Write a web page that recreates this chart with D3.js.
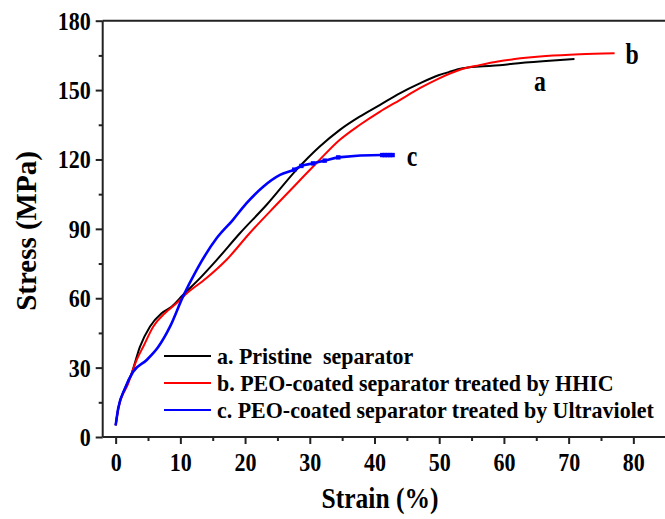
<!DOCTYPE html>
<html>
<head>
<meta charset="utf-8">
<script src="https://cdn.jsdelivr.net/npm/d3@7"></script>
<style>
  html, body { margin: 0; padding: 0; background: #fff; }
  svg { display: block; }
</style>
</head>
<body>
<svg id="chart" width="665" height="519"></svg>
<script>
// ---- data ----
const strainA = [0, 0.4, 1.44, 2.47, 3.75, 5.29, 7.1, 8.64, 10.4, 13, 15.6, 19.2, 23.3, 27.9, 31.5, 34.6, 37.7, 40.8, 43.9, 47, 50, 51.6, 53.6, 56.2, 59.3, 61.4, 66.5, 70.9];
const stressA = [5, 12.4, 21, 27.5, 39, 47.7, 53.5, 56.3, 61.4, 68.6, 76.5, 88.1, 100.3, 115.4, 125.5, 132.7, 138.5, 143.5, 148.6, 152.9, 156.5, 157.9, 159.4, 160.2, 160.7, 161.4, 162.6, 163.4];

const strainB = [0, 0.4, 1.95, 3.24, 4.26, 5.8, 7.6, 9.4, 11, 14, 17.1, 20.7, 24.8, 28.4, 31.5, 34.6, 37.7, 40.8, 43.9, 47, 50, 53.1, 56.2, 59.3, 61.4, 66.5, 71.7, 77.1];
const stressB = [5, 12, 23.2, 33.3, 39, 47.7, 53.5, 57.8, 62.1, 68.6, 76.5, 88.1, 100.3, 110.8, 119.8, 128.4, 134.9, 140.6, 145.7, 150.8, 155.1, 158.7, 160.8, 162.5, 163.3, 164.7, 165.5, 165.9];

const strainC = [0, 0.4, 1.44, 2.7, 4.8, 6.6, 8.4, 10.4, 12.5, 15.6, 18.1, 20.2, 22.8, 25.4, 27.6, 28.7, 30.5, 32.3, 34.4, 41.2, 41.6, 42, 42.4, 42.8];
const stressC = [5, 12.4, 21, 28.2, 33.3, 39, 47.7, 60.7, 72.2, 85.9, 93.8, 101, 108.2, 113.3, 115.6, 117.2, 118.3, 119.5, 120.9, 121.9, 121.9, 121.9, 121.9, 121.9];

const xTicks = [0, 10, 20, 30, 40, 50, 60, 70, 80];
const yTicks = [0, 30, 60, 90, 120, 150, 180];
const legendLabels = ["a. Pristine\u00a0 separator", "b. PEO-coated separator treated by HHIC", "c. PEO-coated separator treated by Ultraviolet"];
const curveLabels = ["a", "b", "c"];
const colors = ["#000000", "#ff0000", "#0000ff"];
const xTitle = "Strain (%)";
const yTitle = "Stress (MPa)";

// ---- layout ----
const FONT = "Liberation Serif";
const SX = 0.88; // horizontal squeeze of the reference's text
const svg = d3.select("#chart");
const W = 665, H = 519;
const x = d3.scaleLinear().domain([-2, 85.2]).range([102.7, 667]);
const y = d3.scaleLinear().domain([0, 180]).range([437, 20.7]);

const series = [
  strainA.map((s, i) => [s, stressA[i]]),
  strainB.map((s, i) => [s, stressB[i]]),
  strainC.map((s, i) => [s, stressC[i]])
];

const line = d3.line().x(d => x(d[0])).y(d => y(d[1])).curve(d3.curveMonotoneX);

// curves
const widths = [2, 2, 2.6];
series.forEach((data, k) => {
  svg.append("path")
    .datum(data)
    .attr("fill", "none")
    .attr("stroke", colors[k])
    .attr("stroke-width", widths[k])
    .attr("stroke-linejoin", "round")
    .attr("d", line);
});

// markers on blue plateau
svg.append("g").selectAll("rect")
  .data(series[2].filter(d => d[0] >= 27))
  .join("rect")
  .attr("x", d => x(d[0]) - 2.2)
  .attr("y", d => y(d[1]) - 2.2)
  .attr("width", 4.4)
  .attr("height", 4.4)
  .attr("fill", colors[2]);

// frame: top line
svg.append("line")
  .attr("x1", x.range()[0]).attr("x2", W)
  .attr("y1", y(180)).attr("y2", y(180))
  .attr("stroke", "#222").attr("stroke-width", 2);

// axes
const xAxis = d3.axisBottom(x).tickValues(xTicks).tickSize(7).tickPadding(9).tickFormat(d3.format("d"));
const xMinor = d3.axisBottom(x).tickValues(d3.range(5, 85, 10)).tickSize(4).tickFormat("");
const yAxis = d3.axisLeft(y).tickValues(yTicks).tickSize(7).tickPadding(5).tickFormat(d3.format("d"));
const yMinor = d3.axisLeft(y).tickValues(d3.range(15, 180, 30)).tickSize(4).tickFormat("");

function fontify(sel, size) {
  return sel.style("font-family", FONT).style("font-weight", "bold").style("font-size", size + "px").attr("fill", "#000");
}

function styleAxis(g) {
  g.attr("font-family", null).attr("font-size", null);
  g.select(".domain").attr("stroke", "#222").attr("stroke-width", 2);
  g.selectAll(".tick line").attr("stroke", "#222").attr("stroke-width", 2);
  fontify(g.selectAll(".tick text"), 25);
}

const gx = svg.append("g").attr("transform", `translate(0,${y(0)})`).call(xAxis);
gx.select(".domain").attr("d", `M${x.range()[0]},0H${W}`);
styleAxis(gx);
gx.selectAll(".tick text").attr("transform", `scale(${SX},1)`);
const gxm = svg.append("g").attr("transform", `translate(0,${y(0)})`).call(xMinor);
gxm.select(".domain").remove();
styleAxis(gxm);

const gy = svg.append("g").attr("transform", `translate(${x.range()[0]},0)`).call(yAxis);
gy.select(".domain").attr("d", `M0,${y(0)}V${y(180)}`);
styleAxis(gy);
gy.selectAll(".tick text")
  .attr("dy", "0.34em")
  .attr("x", -12 / SX)
  .attr("transform", `scale(${SX},1)`);
const gym = svg.append("g").attr("transform", `translate(${x.range()[0]},0)`).call(yMinor);
gym.select(".domain").remove();
styleAxis(gym);

function addText(px, py, str, size, anchor, sx) {
  return fontify(svg.append("text")
    .attr("transform", `translate(${px},${py}) scale(${sx},1)`)
    .attr("text-anchor", anchor), size)
    .text(str);
}

// axis titles
addText(380, 508, xTitle, 29, "middle", SX);
fontify(svg.append("text")
  .attr("transform", "translate(36,231) rotate(-90)")
  .attr("text-anchor", "middle"), 29)
  .text(yTitle);

// legend
const legY = [356, 383, 410];
legendLabels.forEach((lab, k) => {
  svg.append("line")
    .attr("x1", 164).attr("x2", 211)
    .attr("y1", legY[k]).attr("y2", legY[k])
    .attr("stroke", colors[k]).attr("stroke-width", 2);
  addText(217, legY[k] + 7.5, lab, 23, "start", 0.955);
});

// curve end labels
const labelPos = [[540, 91], [632, 64], [412, 166]];
curveLabels.forEach((lab, k) => {
  addText(labelPos[k][0], labelPos[k][1], lab, 29, "middle", 0.82);
});
</script>
</body>
</html>
